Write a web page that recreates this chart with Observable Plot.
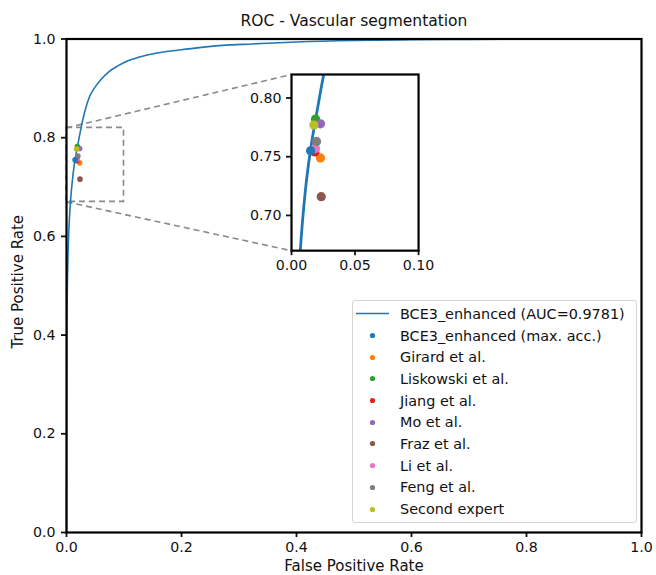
<!DOCTYPE html>
<html>
<head>
<meta charset="utf-8">
<script src="https://cdn.jsdelivr.net/npm/d3@7"></script>
<script src="https://cdn.jsdelivr.net/npm/@observablehq/plot@0.6"></script>
<style>
  body { margin: 0; background: #fff; font-family: "DejaVu Sans", sans-serif; }
  #chart { position: relative; width: 656px; height: 575px; }
  #legend {
    position: absolute; box-sizing: border-box;
    background: rgba(255,255,255,0.85); border: 1px solid #d4d4d4; border-radius: 3px;
    font: 14.4px "DejaVu Sans", sans-serif; color: #111; padding-top: 2px;
  }
  #legend .row { display: flex; align-items: center; height: 21.7px; white-space: nowrap; }
  #legend svg { flex: none; }
</style>
</head>
<body>
<div id="chart"></div>
<script>
// ROC curve of BCE3_enhanced (false positive rate, true positive rate)
const rocFpr = [0, 0.0005, 0.001, 0.002, 0.004, 0.007, 0.011, 0.015, 0.02, 0.025, 0.033, 0.04, 0.05, 0.06, 0.074, 0.09, 0.103, 0.125, 0.155, 0.213, 0.271, 0.323, 0.4, 0.5, 0.6, 0.7, 0.8, 0.9, 1.0];
const rocTpr = [0, 0.30, 0.45, 0.53, 0.61, 0.671, 0.722, 0.756, 0.788, 0.818, 0.858, 0.883, 0.903, 0.918, 0.934, 0.946, 0.954, 0.963, 0.971, 0.980, 0.987, 0.990, 0.994, 0.997, 0.9985, 0.9993, 0.9997, 0.9999, 1.0];
const curveLabel = "BCE3_enhanced (AUC=0.9781)";

// Operating points of the compared methods
const methods = ["BCE3_enhanced (max. acc.)", "Girard et al.", "Liskowski et al.", "Jiang et al.", "Mo et al.", "Fraz et al.", "Li et al.", "Feng et al.", "Second expert"];
const methodFpr = [0.015, 0.0228, 0.0189, 0.0184, 0.0228, 0.0234, 0.0189, 0.0197, 0.0176];
const methodTpr = [0.755, 0.749, 0.782, 0.754, 0.778, 0.716, 0.757, 0.763, 0.777];
const palette = ["#1f77b4", "#ff7f0e", "#2ca02c", "#d62728", "#9467bd", "#8c564b", "#e377c2", "#7f7f7f", "#bcbd22"];

// Axis ticks
const mainTicks = [0, 0.2, 0.4, 0.6, 0.8, 1.0];
const zoomXTicks = [0, 0.05, 0.10];
const zoomYTicks = [0.70, 0.75, 0.80];

// Zoomed window and where the inset sits (in main-axes units)
const zoomX = [0, 0.1];
const zoomY = [0.67, 0.82];
const insetBox = {x1: 0.391, x2: 0.612, y1: 0.571, y2: 0.928};

const curve = rocFpr.map((f, i) => ({fpr: f, tpr: rocTpr[i]}));
const points = methods.map((m, i) => ({method: m, fpr: methodFpr[i], tpr: methodTpr[i]}));
// own result drawn on top of the others
const drawn = points.slice(1).concat(points.slice(0, 1));

const font = "DejaVu Sans";
const colorScale = {domain: methods, range: palette};
const dash = {stroke: "#8a8a8a", strokeWidth: 1.6, strokeDasharray: "6,4"};

const main = Plot.plot({
  width: 656, height: 575,
  marginLeft: 66, marginRight: 15, marginTop: 38.5, marginBottom: 43,
  style: {fontFamily: font, fontSize: "14px", color: "#111", background: "white"},
  x: {domain: [0, 1], axis: null},
  y: {domain: [0, 1], axis: null},
  color: colorScale,
  marks: [
    Plot.axisX({ticks: mainTicks, tickFormat: d3.format(".1f"), tickSize: 5, tickPadding: 4, strokeWidth: 1.8, label: null, fontSize: 14.2}),
    Plot.axisY({ticks: mainTicks, tickFormat: d3.format(".1f"), tickSize: 5, tickPadding: 6, strokeWidth: 1.8, label: null, fontSize: 14.2}),
    Plot.rect([0], {x1: () => zoomX[0], x2: () => zoomX[1], y1: () => zoomY[0], y2: () => zoomY[1], fill: "none", ...dash}),
    Plot.link([
      {a: zoomX[0], b: zoomY[1], c: insetBox.x1, d: insetBox.y2},
      {a: zoomX[0], b: zoomY[0], c: insetBox.x1, d: insetBox.y1}
    ], {x1: "a", y1: "b", x2: "c", y2: "d", ...dash}),
    Plot.line(curve, {x: "fpr", y: "tpr", stroke: "#1f77b4", strokeWidth: 1.6, curve: "monotone-x"}),
    Plot.dot(drawn, {x: "fpr", y: "tpr", fill: "method", r: 2.8}),
    Plot.frame({stroke: "black", strokeWidth: 2.2}),
    Plot.text(["ROC - Vascular segmentation"], {frameAnchor: "top", lineAnchor: "middle", dy: -17.5, fontSize: 15.5, fill: "#111"}),
    Plot.text(["False Positive Rate"], {frameAnchor: "bottom", lineAnchor: "middle", dy: 34, fontSize: 15, fill: "#111"}),
    Plot.text(["True Positive Rate"], {frameAnchor: "left", textAnchor: "middle", lineAnchor: "middle", dx: -48, dy: -4, rotate: -90, fontSize: 15, fill: "#111"})
  ]
});

const chart = document.getElementById("chart");
chart.appendChild(main);

// Inset: magnified view of the operating points
const sx = main.scale("x"), sy = main.scale("y");
const insetLeft = sx.apply(insetBox.x1), insetRight = sx.apply(insetBox.x2);
const insetTop = sy.apply(insetBox.y2), insetBottom = sy.apply(insetBox.y1);
const iml = 46, imr = 22, imt = 6, imb = 26;

const inset = Plot.plot({
  width: (insetRight - insetLeft) + iml + imr, height: (insetBottom - insetTop) + imt + imb,
  marginLeft: iml, marginRight: imr, marginTop: imt, marginBottom: imb,
  style: {fontFamily: font, fontSize: "14px", color: "#111", background: "transparent", overflow: "visible"},
  x: {domain: zoomX, axis: null},
  y: {domain: zoomY, axis: null},
  color: colorScale,
  marks: [
    Plot.frame({fill: "white"}),
    Plot.axisX({ticks: zoomXTicks, tickFormat: d3.format(".2f"), tickSize: 5, tickPadding: 4, strokeWidth: 1.8, label: null, fontSize: 14.2}),
    Plot.axisY({ticks: zoomYTicks, tickFormat: d3.format(".2f"), tickSize: 5, tickPadding: 5, strokeWidth: 1.8, label: null, fontSize: 14.2}),
    Plot.line(curve, {x: "fpr", y: "tpr", stroke: "#1f77b4", strokeWidth: 2.8, curve: "monotone-x", clip: true}),
    Plot.dot(drawn, {x: "fpr", y: "tpr", fill: "method", r: 4.6}),
    Plot.frame({stroke: "black", strokeWidth: 2.2})
  ]
});
inset.style.position = "absolute";
inset.style.left = (insetLeft - iml) + "px";
inset.style.top = (insetTop - imt) + "px";
chart.appendChild(inset);

// Legend
const legend = document.createElement("div");
legend.id = "legend";
Object.assign(legend.style, {left: "352px", top: "300px", width: "285px", height: "223px"});
const ns = "http://www.w3.org/2000/svg";
function swatch(kind, color) {
  const s = document.createElementNS(ns, "svg");
  s.setAttribute("width", 47); s.setAttribute("height", 21);
  if (kind === "line") {
    const l = document.createElementNS(ns, "line");
    l.setAttribute("x1", 3); l.setAttribute("x2", 36); l.setAttribute("y1", 10.5); l.setAttribute("y2", 10.5);
    l.setAttribute("stroke", color); l.setAttribute("stroke-width", 1.6);
    s.appendChild(l);
  } else {
    const c = document.createElementNS(ns, "circle");
    c.setAttribute("cx", 19.5); c.setAttribute("cy", 10.5); c.setAttribute("r", 2.6);
    c.setAttribute("fill", color);
    s.appendChild(c);
  }
  return s;
}
function addRow(kind, color, label) {
  const row = document.createElement("div");
  row.className = "row";
  row.appendChild(swatch(kind, color));
  const t = document.createElement("span");
  t.textContent = label;
  row.appendChild(t);
  legend.appendChild(row);
}
addRow("line", "#1f77b4", curveLabel);
methods.forEach((m, i) => addRow("dot", palette[i], m));
chart.appendChild(legend);
</script>
</body>
</html>
